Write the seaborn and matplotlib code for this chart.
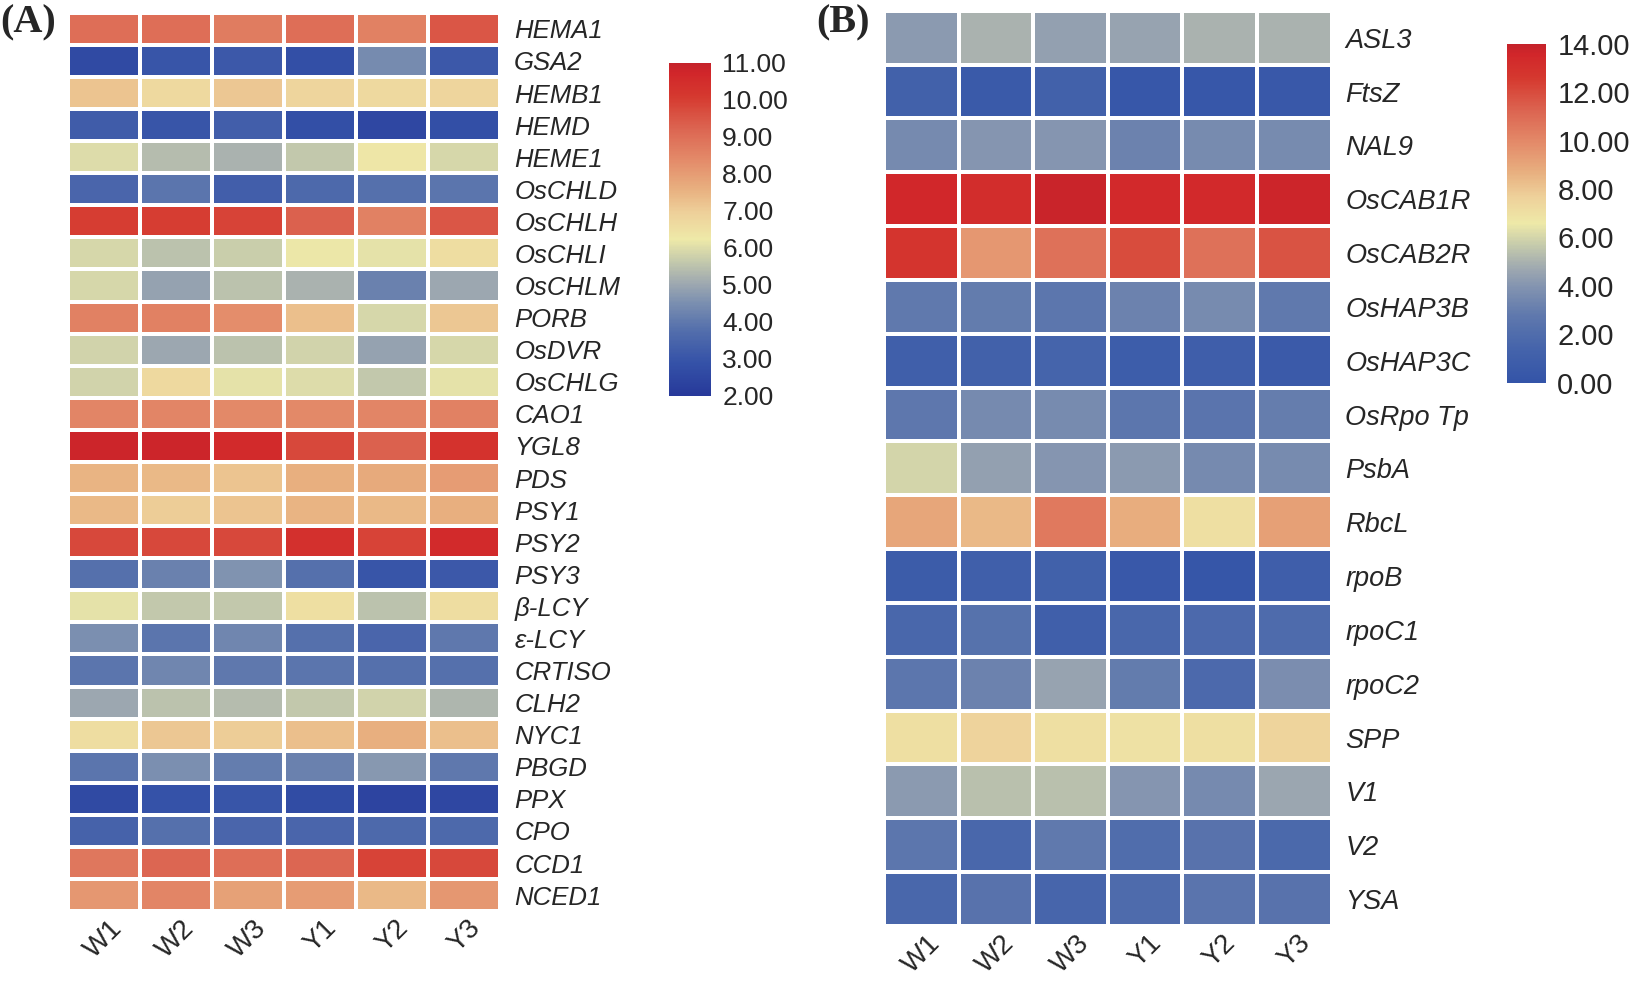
import numpy as np
import pandas as pd
import matplotlib
matplotlib.use("Agg")
import matplotlib.pyplot as plt
import seaborn as sns
from matplotlib.colors import LinearSegmentedColormap

# samples (columns) shared by both panels
samples = ["W1", "W2", "W3", "Y1", "Y2", "Y3"]

# panel A: pigment metabolism genes
genes_a = ["HEMA1", "GSA2", "HEMB1", "HEMD", "HEME1", "OsCHLD", "OsCHLH",
           "OsCHLI", "OsCHLM", "PORB", "OsDVR", "OsCHLG", "CAO1", "YGL8",
           "PDS", "PSY1", "PSY2", "PSY3", "β-LCY", "ε-LCY", "CRTISO", "CLH2",
           "NYC1", "PBGD", "PPX", "CPO", "CCD1", "NCED1"]
values_a = [
    [9.0, 9.0, 8.7, 9.0, 8.6, 9.5],
    [2.6, 3.0, 3.1, 2.8, 4.4, 3.1],
    [7.2, 6.7, 7.1, 6.8, 6.7, 6.8],
    [3.2, 3.0, 3.3, 2.8, 2.5, 2.8],
    [6.0, 5.4, 5.2, 5.6, 6.3, 5.9],
    [3.5, 3.9, 3.3, 3.6, 3.8, 3.9],
    [10.0, 10.0, 9.9, 9.3, 8.6, 9.5],
    [5.9, 5.5, 5.7, 6.2, 6.1, 6.6],
    [5.9, 4.9, 5.5, 5.2, 4.2, 5.0],
    [8.6, 8.6, 8.3, 7.3, 5.9, 7.1],
    [5.8, 5.0, 5.5, 5.8, 4.9, 5.9],
    [5.8, 6.7, 6.1, 6.0, 5.6, 6.1],
    [8.5, 8.5, 8.4, 8.4, 8.5, 8.6],
    [10.8, 10.8, 10.6, 9.8, 9.3, 10.3],
    [7.5, 7.4, 7.2, 7.6, 7.7, 8.0],
    [7.4, 7.0, 7.2, 7.5, 7.4, 7.6],
    [9.8, 9.8, 9.8, 10.4, 9.9, 10.6],
    [3.8, 4.2, 4.6, 3.8, 3.0, 3.1],
    [6.1, 5.6, 5.6, 6.5, 5.5, 6.6],
    [4.5, 3.9, 4.3, 3.8, 3.5, 4.0],
    [3.9, 4.3, 4.0, 3.9, 3.8, 3.8],
    [5.0, 5.5, 5.4, 5.6, 5.8, 5.3],
    [6.6, 7.1, 7.0, 7.3, 7.6, 7.3],
    [3.9, 4.5, 4.1, 4.2, 4.7, 4.0],
    [2.6, 2.9, 3.0, 2.7, 2.4, 2.5],
    [3.4, 3.8, 3.5, 3.5, 3.6, 3.6],
    [8.8, 9.2, 9.0, 9.2, 9.9, 9.8],
    [8.1, 8.5, 7.9, 8.0, 7.4, 8.1],
]

# panel B: chloroplast development genes
genes_b = ["ASL3", "FtsZ", "NAL9", "OsCAB1R", "OsCAB2R", "OsHAP3B", "OsHAP3C",
           "OsRpo Tp", "PsbA", "RbcL", "rpoB", "rpoC1", "rpoC2", "SPP", "V1",
           "V2", "YSA"]
values_b = [
    [4.2, 5.0, 4.4, 4.5, 5.0, 5.0],
    [1.2, 0.5, 1.2, 0.3, 0.3, 0.4],
    [3.5, 4.0, 4.0, 3.2, 3.6, 3.6],
    [13.5, 13.2, 13.8, 13.4, 13.4, 13.7],
    [12.8, 9.5, 10.8, 12.0, 10.8, 11.8],
    [2.8, 2.9, 2.6, 3.2, 3.6, 2.8],
    [1.0, 1.2, 1.4, 0.8, 0.9, 0.6],
    [2.7, 3.5, 3.6, 2.6, 2.5, 3.0],
    [6.0, 4.4, 4.0, 4.2, 3.5, 3.6],
    [9.0, 8.4, 10.5, 8.8, 7.0, 9.2],
    [0.7, 1.0, 1.1, 0.4, 0.2, 0.9],
    [1.6, 2.3, 1.0, 1.6, 1.8, 1.9],
    [2.6, 3.2, 4.5, 2.9, 1.8, 3.7],
    [7.0, 7.6, 7.0, 6.9, 7.0, 7.5],
    [4.2, 5.4, 5.4, 4.0, 3.5, 4.6],
    [2.6, 1.6, 2.8, 2.0, 2.4, 1.7],
    [1.6, 2.4, 1.5, 1.9, 2.5, 2.4],
]

ticks_a = [2, 3, 4, 5, 6, 7, 8, 9, 10, 11]
ticks_b = [0, 2, 4, 6, 8, 10, 12, 14]

df_a = pd.DataFrame(values_a, index=genes_a, columns=samples)
df_b = pd.DataFrame(values_b, index=genes_b, columns=samples)

# blue - grey - yellow - red colour scale (upper part shared)
upper = [
    (0.34, "#a0aab0"),
    (0.40, "#c2c8ac"),
    (0.47, "#eee9a8"),
    (0.55, "#eed09a"),
    (0.62, "#e8b080"),
    (0.70, "#e48e6c"),
    (0.80, "#dc6652"),
    (0.90, "#d5392f"),
    (0.97, "#d1262a"),
    (1.00, "#c4222a"),
]
cmap_a = LinearSegmentedColormap.from_list("bgyr_a", [
    (0.00, "#27399a"),
    (0.10, "#3552a8"),
    (0.20, "#5570ac"),
    (0.28, "#7c90b0"),
] + upper)
cmap_b = LinearSegmentedColormap.from_list("bgyr_b", [
    (0.00, "#3454a8"),
    (0.10, "#4564ab"),
    (0.20, "#6079ad"),
    (0.28, "#8293b0"),
] + upper)

sns.set_style("white")
plt.rcParams["font.family"] = ["Liberation Sans", "DejaVu Sans"]

fig = plt.figure(figsize=(16.35, 9.85), dpi=100)

ax_a = fig.add_axes([0.0415, 0.075, 0.2645, 0.912])
cax_a = fig.add_axes([0.4094, 0.598, 0.0255, 0.3385])
ax_b = fig.add_axes([0.5408, 0.060, 0.2736, 0.929])
cax_b = fig.add_axes([0.9215, 0.6115, 0.0242, 0.344])


def draw_panel(ax, cax, df, cmap, vmin, vmax, ticks, label_size, tick_size):
    sns.heatmap(df, ax=ax, cbar_ax=cax, cmap=cmap, vmin=vmin, vmax=vmax,
                linewidths=1.5, linecolor="white",
                cbar_kws={"ticks": ticks, "format": "%.2f"})
    ax.yaxis.tick_right()
    ax.tick_params(axis="both", length=0)
    ax.tick_params(axis="y", pad=10)
    ax.tick_params(axis="x", pad=3)
    ax.set_yticklabels(df.index, rotation=0, fontsize=label_size, style="italic")
    ax.set_xticklabels(df.columns, rotation=45, ha="center", fontsize=20)
    ax.set_xlabel("")
    ax.set_ylabel("")
    cax.tick_params(length=0, labelsize=tick_size, pad=8)
    ax.collections[0].colorbar.outline.set_visible(False)


draw_panel(ax_a, cax_a, df_a, cmap_a, 2, 11, ticks_a, 18.5, 19)
draw_panel(ax_b, cax_b, df_b, cmap_b, 0, 14, ticks_b, 19.5, 21)

fig.text(0.0, 0.996, "(A)", fontsize=29, fontweight="bold",
         family="Liberation Serif", va="top", ha="left")
fig.text(0.4995, 0.996, "(B)", fontsize=29, fontweight="bold",
         family="Liberation Serif", va="top", ha="left")

fig.savefig("out.png", dpi=100)
